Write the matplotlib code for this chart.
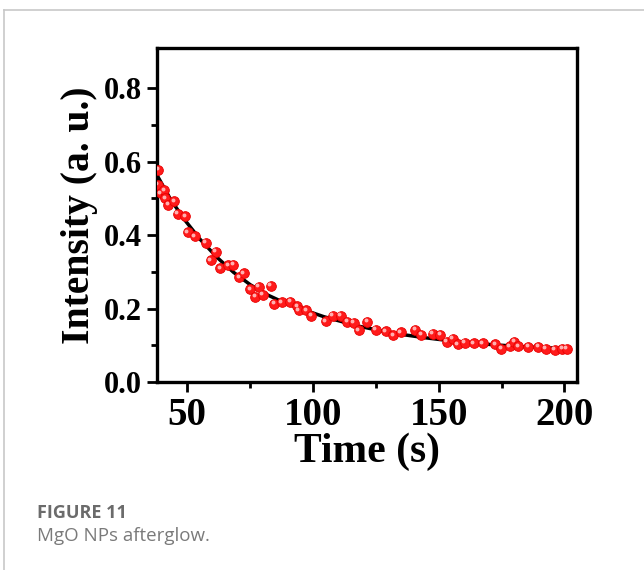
import numpy as np
import matplotlib
matplotlib.use("Agg")
import matplotlib.pyplot as plt
import matplotlib.transforms as mtransforms
from matplotlib.lines import Line2D

time_s = [38.5, 38.2, 39.5, 40.8, 41.2, 42.5, 44.9, 46.3, 49.2, 50.2,
          53.1, 57.4, 61.4, 59.4, 63.1, 66.4, 68.4, 70.7, 72.4, 75.1,
          77.1, 78.4, 80.1, 83.3, 84.6, 87.7, 91.0, 93.7, 94.3, 97.3,
          99.3, 105.0, 107.9, 111.0, 113.6, 116.3, 118.3, 121.6, 125.0, 129.0,
          132.0, 134.9, 140.6, 143.0, 147.6, 150.7, 153.3, 155.6, 157.6, 160.3,
          163.9, 167.6, 172.5, 174.9, 178.3, 180.0, 181.6, 185.6, 189.6, 192.6,
          196.2, 199.1, 200.9]
intensity = [0.578, 0.537, 0.514, 0.523, 0.501, 0.483, 0.492, 0.458, 0.451, 0.408,
             0.397, 0.379, 0.355, 0.332, 0.310, 0.318, 0.320, 0.285, 0.296, 0.253,
             0.232, 0.260, 0.238, 0.262, 0.213, 0.217, 0.219, 0.207, 0.195, 0.195,
             0.181, 0.166, 0.181, 0.181, 0.164, 0.162, 0.141, 0.164, 0.143, 0.138,
             0.127, 0.136, 0.143, 0.129, 0.131, 0.129, 0.109, 0.118, 0.103, 0.107,
             0.106, 0.106, 0.103, 0.091, 0.097, 0.110, 0.097, 0.096, 0.096, 0.091,
             0.088, 0.091, 0.091]

# fitted decay curve
fit_t = [38.3, 43.2, 48.5, 55.1, 61.8, 68.4, 75.1, 81.7, 88.3, 95.0,
         104.3, 117.6, 130.8, 144.1, 157.4, 170.7, 184.0, 200.4]
fit_i = [0.560, 0.500, 0.446, 0.389, 0.340, 0.299, 0.265, 0.238, 0.217, 0.200,
         0.178, 0.153, 0.134, 0.121, 0.110, 0.102, 0.096, 0.091]

fig = plt.figure(figsize=(6.44, 5.70), dpi=100)
ax = fig.add_axes([157 / 644, 1 - 382 / 570, 420 / 644, 334 / 570])

ax.plot(fit_t, fit_i, color='black', linewidth=2.5, zorder=2,
        solid_joinstyle='round')
ax.plot(time_s, intensity, linestyle='none', marker='o', markersize=7,
        markerfacecolor='#ff1a1a', markeredgecolor='#e80000',
        markeredgewidth=0.6, zorder=3)
# small highlight on each sphere
shine = ax.transData + mtransforms.ScaledTranslation(-1.5 / 100, 1.5 / 100, fig.dpi_scale_trans)
ax.plot(time_s, intensity, linestyle='none', marker='o', markersize=1.8,
        color='#ffb0b0', transform=shine, zorder=4)

ax.set_xlim(38, 205)
ax.set_ylim(0, 0.91)
ax.set_xticks([50, 100, 150, 200])
ax.set_xticks([75, 125, 175], minor=True)
ax.set_yticks([0.0, 0.2, 0.4, 0.6, 0.8])
ax.set_yticks([0.1, 0.3, 0.5, 0.7], minor=True)
ax.set_yticklabels(['0.0', '0.2', '0.4', '0.6', '0.8'])

for sp in ax.spines.values():
    sp.set_linewidth(2.4)

ax.tick_params(which='major', direction='out', length=7, width=2,
               top=False, right=False, pad=4)
ax.tick_params(which='minor', direction='out', length=4, width=2,
               top=False, right=False)

serif = ['Liberation Serif', 'DejaVu Serif']
for lab in ax.get_xticklabels():
    lab.set_fontfamily(serif)
    lab.set_fontweight('bold')
    lab.set_fontsize(28)
for lab in ax.get_yticklabels():
    lab.set_fontfamily(serif)
    lab.set_fontweight('bold')
    lab.set_fontsize(22)

ax.set_xlabel('Time (s)', family=serif, fontweight='bold', fontsize=30, labelpad=-1)
ax.set_ylabel('Intensity (a. u.)', family=serif, fontweight='bold', fontsize=28.5, labelpad=4)

# page frame lines
fig.add_artist(Line2D([4 / 644, 4 / 644], [0, 1 - 10 / 570], color='#c8c8c8',
                      linewidth=1.2, transform=fig.transFigure))
fig.add_artist(Line2D([4 / 644, 1], [1 - 10 / 570, 1 - 10 / 570], color='#c8c8c8',
                      linewidth=1.2, transform=fig.transFigure))

fig.text(37 / 644, 1 - 518 / 570, 'FIGURE 11', family='Open Sans', fontweight='bold',
         fontsize=13, color='#6b6b6b', va='baseline')
fig.text(37 / 644, 1 - 541 / 570, 'MgO NPs afterglow.', family='Open Sans',
         fontsize=13.5, color='#7a7a7a', va='baseline')

fig.savefig('out.png', dpi=100)
